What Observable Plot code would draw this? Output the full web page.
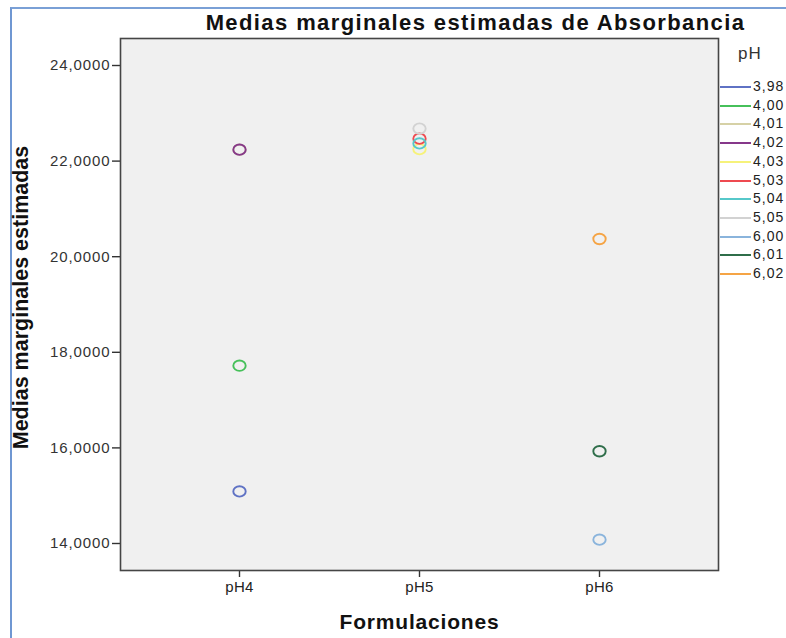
<!DOCTYPE html>
<html>
<head>
<meta charset="utf-8">
<script src="https://cdn.jsdelivr.net/npm/d3@7"></script>
<script src="https://cdn.jsdelivr.net/npm/@observablehq/plot@0.6"></script>
<style>
  body { margin: 0; background: #fff; }
  #wrap { position: relative; width: 786px; height: 638px; overflow: hidden; font-family: "Liberation Sans", Arial, sans-serif; }
  #border { position: absolute; left: 10px; top: 7px; width: 800px; height: 700px; border-top: 2px solid #7aa0d6; border-left: 2px solid #6f97d2; }
  #chart { position: absolute; left: 0; top: 0; }
  #legend { position: absolute; left: 718px; top: 40px; font-size: 14px; color: #222; letter-spacing: 1px; }
  #legend .ttl { position: absolute; left: 20px; top: 4px; font-size: 17px; color: #333; }
  #legend .it { position: absolute; left: 0; height: 16px; width: 70px; }
  #legend .ln { position: absolute; left: 2px; top: 7px; width: 31px; height: 2px; }
  #legend .lb { position: absolute; left: 35px; top: -1px; }
  g[aria-label="y-axis tick label"] text { letter-spacing: 0.9px; }
  g[aria-label="x-axis tick label"] text { letter-spacing: 0.3px; }
</style>
</head>
<body>
<div id="wrap">
  <div id="border"></div>
  <div id="chart"></div>
  <div id="legend"></div>
</div>
<script>
const formulaciones = ["pH4", "pH5", "pH6"];
const phLevels = ["3,98", "4,00", "4,01", "4,02", "4,03", "5,03", "5,04", "5,05", "6,00", "6,01", "6,02"];
const phGroup   = ["pH4", "pH4", "pH4", "pH4", "pH5", "pH5", "pH5", "pH5", "pH6", "pH6", "pH6"];
const medias    = [15.09, 17.72, 22.24, 22.24, 22.25, 22.47, 22.37, 22.68, 14.08, 15.93, 20.37];
const colores   = ["#5f72c4", "#46c05a", "#d6d1a6", "#86388a", "#f6f27a", "#ee4a50", "#56c8ca", "#d2d2d2", "#8ab4dc", "#2f6e4a", "#f5a445"];
const yTicks = [14, 16, 18, 20, 22, 24];
const titulo = "Medias marginales estimadas de Absorbancia";
const etiquetaY = "Medias marginales estimadas";
const etiquetaX = "Formulaciones";

const data = phLevels.map((p, i) => ({ph: p, grupo: phGroup[i], valor: medias[i]}));

const ellipse = {
  draw(ctx, size) {
    const rx = 6.2, ry = 5.2, k = 0.5523;
    ctx.moveTo(rx, 0);
    ctx.bezierCurveTo(rx, ry * k, rx * k, ry, 0, ry);
    ctx.bezierCurveTo(-rx * k, ry, -rx, ry * k, -rx, 0);
    ctx.bezierCurveTo(-rx, -ry * k, -rx * k, -ry, 0, -ry);
    ctx.bezierCurveTo(rx * k, -ry, rx, -ry * k, rx, 0);
    ctx.closePath();
  }
};

const fmt = d => d.toFixed(4).replace(".", ",");

const chart = Plot.plot({
  width: 786,
  height: 638,
  marginLeft: 120,
  marginRight: 68,
  marginTop: 38,
  marginBottom: 68,
  style: {fontFamily: "Liberation Sans, Arial, sans-serif", background: "transparent", color: "#333"},
  x: {type: "point", domain: formulaciones, padding: 0.661},
  y: {domain: [13.435, 24.565]},
  color: {domain: phLevels, range: colores},
  marks: [
    Plot.frame({fill: "#f0f0f0", stroke: null}),
    Plot.axisY({ticks: yTicks, tickFormat: fmt, tickSize: 8, tickPadding: 2, fontSize: 15, label: null, stroke: "#333", strokeWidth: 1.4, fill: "#333"}),
    Plot.axisX({tickSize: 7, tickPadding: 4, fontSize: 15, label: null, stroke: "#333", strokeWidth: 1.4, fill: "#222"}),
    Plot.dot(data, {x: "grupo", y: "valor", stroke: "ph", r: 5, symbol: ellipse, strokeWidth: 1.9, fill: "none"}),
    Plot.frame({stroke: "#454545", strokeWidth: 1.6}),
    Plot.text([titulo], {frameAnchor: "top", dx: 56, dy: -24, fontSize: 22, fontWeight: "bold", fill: "#111"}),
    Plot.text([etiquetaY], {frameAnchor: "left", textAnchor: "middle", dx: -99, dy: -7, rotate: -90, fontSize: 21.5, fontWeight: "bold", fill: "#111"}),
    Plot.text([etiquetaX], {frameAnchor: "bottom", dy: 58, fontSize: 21, fontWeight: "bold", fill: "#111"})
  ]
});
d3.select(chart).selectAll("text").each(function() {
  const t = this.textContent;
  if (t === titulo) this.style.letterSpacing = "1.4px";
  if (t === etiquetaX) this.style.letterSpacing = "0.8px";
});
document.getElementById("chart").appendChild(chart);

const legend = document.getElementById("legend");
const ttl = document.createElement("div");
ttl.className = "ttl";
ttl.textContent = "pH";
legend.appendChild(ttl);
phLevels.forEach((p, i) => {
  const it = document.createElement("div");
  it.className = "it";
  it.style.top = (39 + i * 18.7) + "px";
  const ln = document.createElement("div");
  ln.className = "ln";
  ln.style.background = colores[i];
  const lb = document.createElement("div");
  lb.className = "lb";
  lb.textContent = p;
  it.appendChild(ln);
  it.appendChild(lb);
  legend.appendChild(it);
});
</script>
</body>
</html>
